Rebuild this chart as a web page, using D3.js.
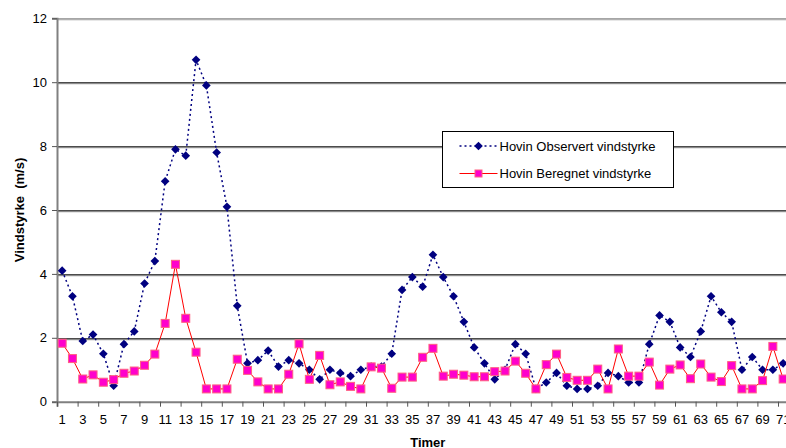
<!DOCTYPE html>
<html>
<head>
<meta charset="utf-8">
<script src="https://cdn.jsdelivr.net/npm/d3@7"></script>
<style>
  body { margin: 0; background: #fff; }
  text { font-family: Arial, "Liberation Sans", sans-serif; }
</style>
</head>
<body>
<div id="chart"></div>
<script>
// categories (hours) - the plot has room for 72, the last one is off the picture
const hours = d3.range(1, 73);
const tickHours = d3.range(1, 72, 2);
const yTicks = [0, 2, 4, 6, 8, 10, 12];

const seriesNames = ["Hovin Observert vindstyrke", "Hovin Beregnet vindstyrke"];

// observed wind speed (m/s)
const observed = [4.1, 3.3, 1.9, 2.1, 1.5, 0.5, 1.8, 2.2, 3.7, 4.4,
  6.9, 7.9, 7.7, 10.7, 9.9, 7.8, 6.1, 3.0, 1.2, 1.3,
  1.6, 1.1, 1.3, 1.2, 1.0, 0.7, 1.0, 0.9, 0.8, 1.0,
  1.1, 1.1, 1.5, 3.5, 3.9, 3.6, 4.6, 3.9, 3.3, 2.5,
  1.7, 1.2, 0.7, 1.0, 1.8, 1.5, 0.4, 0.6, 0.9, 0.5,
  0.4, 0.4, 0.5, 0.9, 0.8, 0.6, 0.6, 1.8, 2.7, 2.5,
  1.7, 1.4, 2.2, 3.3, 2.8, 2.5, 1.0, 1.4, 1.0, 1.0,
  1.2];

// calculated wind speed (m/s)
const calculated = [1.83, 1.35, 0.71, 0.84, 0.61, 0.69, 0.89, 0.96, 1.14, 1.49,
  2.45, 4.3, 2.61, 1.55, 0.4, 0.4, 0.4, 1.33, 0.98, 0.62,
  0.4, 0.4, 0.86, 1.81, 0.7, 1.45, 0.53, 0.62, 0.48, 0.4,
  1.09, 1.05, 0.42, 0.77, 0.77, 1.39, 1.67, 0.8, 0.86, 0.83,
  0.78, 0.78, 0.94, 0.96, 1.27, 0.89, 0.4, 1.16, 1.49, 0.76,
  0.67, 0.67, 1.02, 0.4, 1.65, 0.8, 0.8, 1.24, 0.52, 1.02,
  1.15, 0.72, 1.18, 0.77, 0.63, 1.13, 0.4, 0.4, 0.66, 1.73,
  0.71];

const svgWidth = 786, svgHeight = 448;
const margin = {top: 18.3, left: 57};
const catWidth = 10.3;
const width = catWidth * hours.length;
const height = 401.7 - margin.top;

const svg = d3.select("#chart").append("svg")
  .attr("width", svgWidth)
  .attr("height", svgHeight);

const g = svg.append("g")
  .attr("transform", `translate(${margin.left}, ${margin.top})`);

const xScale = d3.scaleBand().domain(hours).range([0, width]).padding(0);
const xEdge = d3.scaleLinear().domain([0, hours.length]).range([0, width]);
const yScale = d3.scaleLinear().domain([0, 12]).range([height, 0]);
const cx = d => xScale(d) + xScale.bandwidth() / 2;

// gridlines
const grid = g.append("g");
grid.selectAll(".shade")
  .data(yTicks.slice(1))
  .enter().append("line")
  .attr("x1", 0).attr("x2", width)
  .attr("y1", d => Math.round(yScale(d)) + 1.5)
  .attr("y2", d => Math.round(yScale(d)) + 1.5)
  .attr("stroke", "#b0b0b0");
grid.selectAll(".major")
  .data(yTicks.slice(1))
  .enter().append("line")
  .attr("x1", 0).attr("x2", width)
  .attr("y1", d => Math.round(yScale(d)) + 0.5)
  .attr("y2", d => Math.round(yScale(d)) + 0.5)
  .attr("stroke", d => d === 12 ? "#808080" : "#000");

// y axis
const yAxis = g.append("g")
  .call(d3.axisLeft(yScale).tickValues(yTicks).tickSize(5).tickPadding(5));
yAxis.select(".domain").attr("stroke", "#808080").attr("stroke-width", 2);
yAxis.selectAll(".tick line").attr("stroke", "#555");
yAxis.selectAll(".tick text").attr("font-size", 13).attr("fill", "#000");

// x axis: tick marks on category edges, labels in the middle
const xTickAxis = g.append("g")
  .attr("transform", `translate(0, ${height})`)
  .call(d3.axisBottom(xEdge).tickValues(d3.range(0, hours.length + 1, 2)).tickSize(5).tickFormat(""));
xTickAxis.select(".domain").attr("stroke", "#808080").attr("stroke-width", 2);
xTickAxis.selectAll(".tick line").attr("stroke", "#555");

const xLabelAxis = g.append("g")
  .attr("transform", `translate(0, ${height})`)
  .call(d3.axisBottom(xScale).tickValues(tickHours).tickSize(0).tickPadding(13));
xLabelAxis.select(".domain").remove();
xLabelAxis.selectAll(".tick text").attr("font-size", 13).attr("fill", "#000");

// observed series: dotted navy with diamonds
const obsLine = d3.line().x((d, i) => cx(hours[i])).y(d => yScale(d));
g.append("path")
  .datum(observed)
  .attr("d", obsLine)
  .attr("fill", "none")
  .attr("stroke", "#000080")
  .attr("stroke-width", 1.5)
  .attr("stroke-dasharray", "2,3");

const diamond = d3.symbol().type(d3.symbolDiamond2).size(48);
g.selectAll(".obs")
  .data(observed)
  .enter().append("path")
  .attr("d", diamond)
  .attr("transform", (d, i) => `translate(${cx(hours[i])}, ${yScale(d)})`)
  .attr("fill", "#000080");

// calculated series: red line with magenta squares
g.append("path")
  .datum(calculated)
  .attr("d", obsLine)
  .attr("fill", "none")
  .attr("stroke", "#ff0000")
  .attr("stroke-width", 1);

g.selectAll(".calc")
  .data(calculated)
  .enter().append("rect")
  .attr("x", (d, i) => cx(hours[i]) - 4)
  .attr("y", d => yScale(d) - 4)
  .attr("width", 8)
  .attr("height", 8)
  .attr("fill", "#ff00cc")
  .attr("stroke", "#ff6080")
  .attr("stroke-width", 1);

// legend
const legend = svg.append("g").attr("transform", "translate(442.5, 131.5)");
legend.append("rect")
  .attr("width", 231).attr("height", 56)
  .attr("fill", "#fff").attr("stroke", "#000");

legend.append("line")
  .attr("x1", 17).attr("x2", 55).attr("y1", 14.5).attr("y2", 14.5)
  .attr("stroke", "#000080").attr("stroke-width", 1.5).attr("stroke-dasharray", "2,3");
legend.append("path")
  .attr("d", diamond)
  .attr("transform", "translate(36, 14.5)")
  .attr("fill", "#000080");
legend.append("line")
  .attr("x1", 17).attr("x2", 55).attr("y1", 42).attr("y2", 42)
  .attr("stroke", "#ff0000");
legend.append("rect")
  .attr("x", 32.5).attr("y", 38.5).attr("width", 7).attr("height", 7)
  .attr("fill", "#ff00cc").attr("stroke", "#ff6080");

legend.selectAll(".ltext")
  .data(seriesNames)
  .enter().append("text")
  .attr("x", 57)
  .attr("y", (d, i) => 19 + i * 27.5)
  .attr("font-size", 13)
  .text(d => d);

// axis titles
svg.append("text")
  .attr("transform", `translate(24, ${margin.top + height / 2}) rotate(-90)`)
  .attr("text-anchor", "middle")
  .attr("font-size", 13)
  .attr("font-weight", "bold")
  .attr("xml:space", "preserve")
  .text("Vindstyrke  (m/s)");

svg.append("text")
  .attr("x", margin.left + width / 2)
  .attr("y", 447)
  .attr("text-anchor", "middle")
  .attr("font-size", 13)
  .attr("font-weight", "bold")
  .text("Timer");
</script>
</body>
</html>
